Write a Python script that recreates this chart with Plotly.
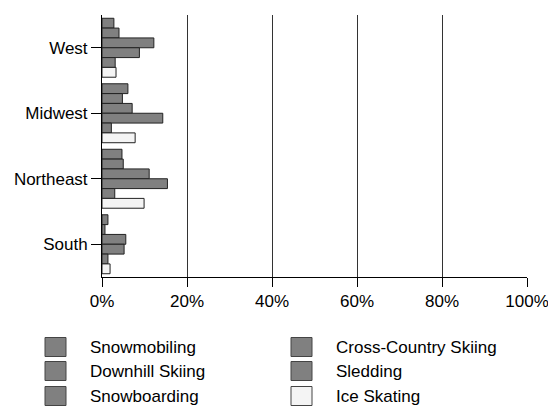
import plotly.graph_objects as go

regions = ["West", "Midwest", "Northeast", "South"]
series_names = ["Snowmobiling", "Cross-Country Skiing", "Downhill Skiing",
                "Sledding", "Snowboarding", "Ice Skating"]
snowmobiling = [2.8, 6.1, 4.7, 1.4]
cross_country = [4.0, 4.8, 5.0, 0.7]
downhill = [12.2, 7.1, 11.1, 5.6]
sledding = [8.8, 14.3, 15.4, 5.2]
snowboarding = [3.1, 2.2, 3.0, 1.4]
ice_skating = [3.3, 7.8, 9.9, 1.9]
series_values = [snowmobiling, cross_country, downhill, sledding, snowboarding, ice_skating]
series_colors = ["#808080", "#808080", "#808080", "#808080", "#808080", "#f4f4f4"]
tick_values = [0, 20, 40, 60, 80, 100]
tick_labels = ["0%", "20%", "40%", "60%", "80%", "100%"]

FONT = "Liberation Sans, Arial, sans-serif"
W, H = 548, 410
L, R, T, B = 102, 21, 15, 133

fig = go.Figure()
for name, vals, col in zip(series_names, series_values, series_colors):
    fig.add_trace(go.Bar(
        y=regions, x=vals, name=name, orientation="h",
        marker=dict(color=col, line=dict(color="#222222", width=1)),
        showlegend=False,
    ))

# custom legend (two columns, row-major)
pw, ph = W - L - R, H - T - B
def px2x(px):
    return (px - L) / pw
def py2y(py):
    return (H - B - py) / ph

shapes = []
annotations = []
col_box_x = [45, 291]
col_text_x = [88, 334]
row_y = [347, 371, 396]
for i, (name, col) in enumerate(zip(series_names, series_colors)):
    c = i % 2
    r = i // 2
    bx = col_box_x[c]
    cy = row_y[r]
    shapes.append(dict(
        type="rect", xref="paper", yref="paper",
        x0=px2x(bx), x1=px2x(bx + 21), y0=py2y(cy - 9.5), y1=py2y(cy + 9.5),
        fillcolor=col, line=dict(color="#444444", width=1),
    ))
    annotations.append(dict(
        xref="paper", yref="paper", x=px2x(col_text_x[c]), y=py2y(cy),
        text=name, showarrow=False, xanchor="left", yanchor="middle",
        font=dict(family=FONT, size=17, color="#000000"),
    ))

fig.update_layout(
    width=W, height=H,
    margin=dict(l=L, r=R, t=T, b=B, autoexpand=False),
    paper_bgcolor="white", plot_bgcolor="white",
    barmode="group", bargap=0.1, bargroupgap=0,
    font=dict(family=FONT, size=17, color="#000000"),
    shapes=shapes, annotations=annotations,
    xaxis=dict(
        range=[0, 100], tickmode="array", tickvals=tick_values, ticktext=tick_labels,
        ticklabeloverflow="allow",
        showgrid=True, gridcolor="#333333", gridwidth=1,
        zeroline=False, showline=True, linecolor="#000000", linewidth=1,
        ticks="outside", ticklen=9, tickcolor="#000000",
    ),
    yaxis=dict(
        categoryorder="array", categoryarray=regions,
        autorange="reversed", showgrid=False, zeroline=False,
        showline=True, linecolor="#000000", linewidth=1,
        ticks="outside", ticklen=10, tickcolor="#000000",
    ),
)

fig.write_html(
    "out.html",
    config={"displayModeBar": False},
    post_script="document.documentElement.style.margin='0';"
                "document.body.style.margin='0';document.body.style.padding='0';",
)
